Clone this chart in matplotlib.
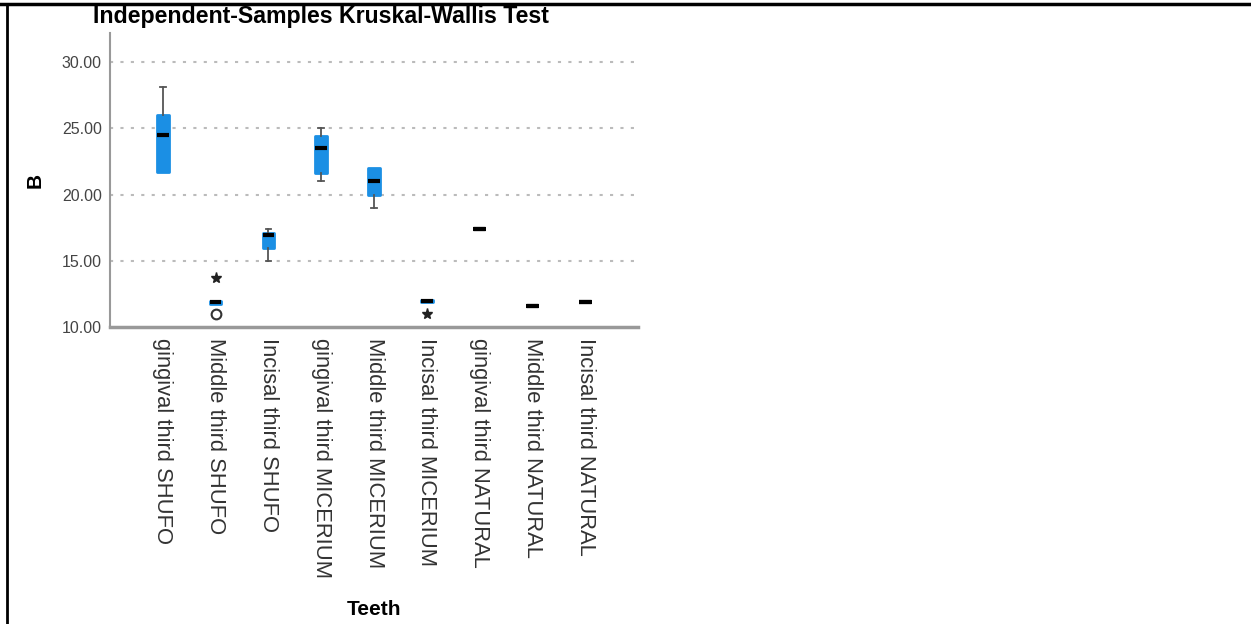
import matplotlib
matplotlib.use("Agg")
import matplotlib.pyplot as plt
from matplotlib.lines import Line2D

plt.rcParams['font.family'] = ['Liberation Sans', 'DejaVu Sans']

labels = ["gingival third SHUFO", "Middle third SHUFO", "Incisal third SHUFO",
          "gingival third MICERIUM", "Middle third MICERIUM", "Incisal third MICERIUM",
          "gingival third NATURAL", "Middle third NATURAL", "Incisal third NATURAL"]

# five-number summaries per group
whislo = [21.7, 11.75, 15.0, 21.0, 19.0, 11.85, 17.4, 11.6, 11.9]
q1     = [21.7, 11.75, 16.0, 21.6, 20.0, 11.85, 17.4, 11.6, 11.9]
med    = [24.5, 11.85, 16.95, 23.55, 21.0, 11.95, 17.4, 11.6, 11.9]
q3     = [26.0, 11.95, 17.1, 24.4, 22.0, 12.0, 17.4, 11.6, 11.9]
whishi = [28.1, 11.95, 17.4, 25.0, 22.0, 12.0, 17.4, 11.6, 11.9]

# outliers (circle) and extremes (star), keyed by group position
outliers = {2: [11.0]}
extremes = {2: [13.7], 6: [10.95]}

yticks = [10, 15, 20, 25, 30]

blue = "#1b8fe4"

fig = plt.figure(figsize=(12.51, 6.24), dpi=100)
ax = fig.add_axes([0.088, 0.476, 0.422, 0.471])

stats = []
for i in range(len(labels)):
    stats.append(dict(whislo=whislo[i], q1=q1[i], med=med[i], q3=q3[i],
                      whishi=whishi[i], fliers=[], label=labels[i]))

pos = list(range(1, len(labels) + 1))
bp = ax.bxp(stats, positions=pos, widths=0.22, patch_artist=True, showfliers=False,
            boxprops=dict(facecolor=blue, edgecolor=blue, linewidth=2, joinstyle='round'),
            medianprops=dict(color='black', linewidth=3, solid_capstyle='butt'),
            whiskerprops=dict(color='#555555', linewidth=1.3),
            capprops=dict(color='#555555', linewidth=1.3),
            capwidths=0.11, zorder=3)

# no whisker or cap where the whisker ends at the box
for i in range(len(labels)):
    if whislo[i] == q1[i]:
        bp['caps'][2 * i].set_visible(False)
        bp['whiskers'][2 * i].set_visible(False)
    if whishi[i] == q3[i]:
        bp['caps'][2 * i + 1].set_visible(False)
        bp['whiskers'][2 * i + 1].set_visible(False)

# single-value groups: draw the median bar wide like the boxes
for i in range(len(labels)):
    if q1[i] == q3[i]:
        ax.plot([pos[i] - 0.125, pos[i] + 0.125], [med[i], med[i]],
                color='black', lw=3, solid_capstyle='butt', zorder=4)

for k, vals in outliers.items():
    ax.plot([k] * len(vals), vals, 'o', ms=7, mfc='white', mec='#333333', mew=1.5, zorder=5)
for k, vals in extremes.items():
    ax.plot([k] * len(vals), vals, '*', ms=8, color='#222222', zorder=5)

ax.set_xlim(0, 10)
ax.set_ylim(10, 32.2)
ax.set_yticks(yticks)
ax.set_yticklabels(["%.2f" % v for v in yticks], fontsize=11.5, color='#444444')
ax.set_xticks(pos)
ax.set_xticklabels(labels, rotation=270, fontsize=15.8, color='#333333', va='top', ha='center')
ax.tick_params(length=0, pad=6)
ax.tick_params(axis='x', pad=8)

for v in yticks[1:]:
    ax.axhline(v, color='#bbbbbb', lw=1.5, ls=(0, (1.5, 3.5)), zorder=1)

for s in ['top', 'right']:
    ax.spines[s].set_visible(False)
ax.spines['left'].set_color('#999999')
ax.spines['left'].set_linewidth(1.5)
ax.spines['bottom'].set_color('#999999')
ax.spines['bottom'].set_linewidth(2.5)

ax.set_ylabel("B", fontsize=15, fontweight='bold', labelpad=12)
fig.text(0.299, 0.024, "Teeth", fontsize=15, fontweight='bold', ha='center', va='center')
fig.text(0.0745, 0.9625, "Independent-Samples Kruskal-Wallis Test",
         fontsize=16.7, fontweight='bold', ha='left', va='baseline')

# outer frame lines
fig.add_artist(Line2D([0, 1], [0.994, 0.994], color='black', lw=2.5, transform=fig.transFigure))
fig.add_artist(Line2D([0.0055, 0.0055], [0, 0.994], color='black', lw=2.0, transform=fig.transFigure))

fig.savefig("out.png", dpi=100)
